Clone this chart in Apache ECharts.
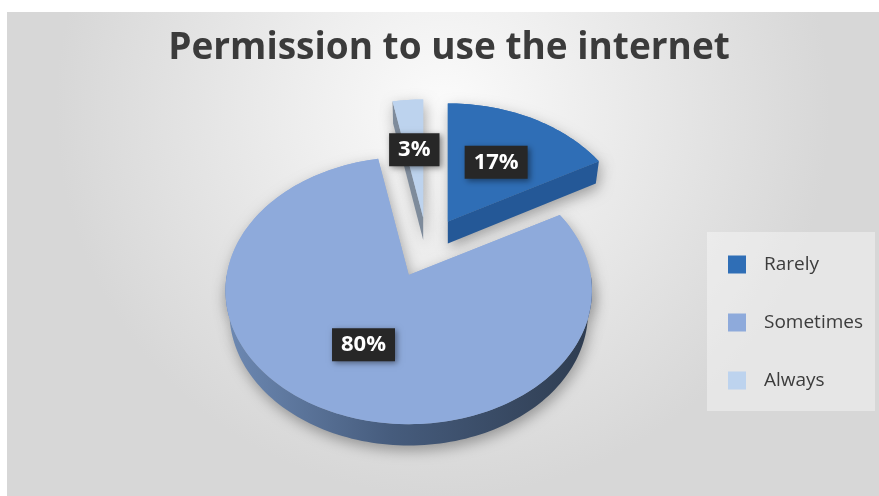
<!DOCTYPE html>
<html>
<head>
<meta charset="utf-8">
<script src="https://cdn.jsdelivr.net/npm/echarts@6/dist/echarts.min.js"></script>
<style>
  html, body { margin: 0; padding: 0; background: #ffffff; }
  #chart { width: 879px; height: 496px; }
</style>
</head>
<body>
<div id="chart"></div>
<script>
// Survey answers: how often permission to use the internet is given
const categories = ['Rarely', 'Sometimes', 'Always'];
const shares = [17, 80, 3];

// Slice styling (top face, radial wall, curved outer wall gradient)
const topColors = ['#2f6eb6', '#8eaadb', '#bdd3ee'];
const sideColors = ['#245897', '#4d6489', '#7e8b9b'];
const outerColors = [['#3d6ea8', '#2a4f80', '#1d4270'],
                     ['#6d89b3', '#465c7d', '#2e3c50'],
                     ['#9fb0c6', '#7a8898', '#5b6878']];

const total = shares.reduce((a, b) => a + b, 0);
const starts = shares.map((_, i) => shares.slice(0, i).reduce((a, b) => a + b, 0));

// 3D view of the pie: centre on screen, radius scale, tilt, perspective, thickness, explosion
const VIEW = {
  cx: 427, cy: 247, scale: 182,
  tilt: 46.4 * Math.PI / 180, persp: 0.168,
  thick: 0.18, explode: 0.23, labelR: 0.55
};
const DEG = Math.PI / 180;

function proj(x, y, z) {
  const ca = Math.cos(VIEW.tilt), sa = Math.sin(VIEW.tilt);
  const yc = y * ca - z * sa;
  const d = 1 - VIEW.persp * (z * ca + y * sa);
  return [x / d * VIEW.scale, -yc / d * VIEW.scale];
}

// paint order: far slices first
const midAngles = shares.map((v, i) => (starts[i] + v / 2) / total * 360);
const order = midAngles.map((m, i) => [-Math.cos(m * DEG), i]).sort((a, b) => a[0] - b[0]).map(p => p[1]);
const rank = [];
order.forEach((idx, r) => { rank[idx] = r; });

const SHADOW = { shadowBlur: 14, shadowColor: 'rgba(0,0,0,0.33)', shadowOffsetX: 2, shadowOffsetY: 5 };

function makeRender(i) {
  return function (params, api) {
    const value = api.value(0);
    const t0 = starts[i] / total * 360;
    const t1 = t0 + value / total * 360;
    const mid = (t0 + t1) / 2 * DEG;
    const off = proj(VIEW.explode * Math.sin(mid), 0, -VIEW.explode * Math.cos(mid));
    const ox = VIEW.cx + off[0], oy = VIEW.cy + off[1];
    const P = (x, y, z) => { const p = proj(x, y, z); return [ox + p[0], oy + p[1]]; };
    const rim = (t, y) => P(Math.sin(t * DEG), y, -Math.cos(t * DEG));
    const arc = (a, b, y) => {
      const pts = [];
      const n = Math.max(2, Math.ceil(Math.abs(b - a) / 1.5));
      for (let k = 0; k <= n; k++) pts.push(rim(a + (b - a) * k / n, y));
      return pts;
    };
    const h = VIEW.thick;
    const base = rank[i] * 10;
    const topPts = [P(0, 0, 0)].concat(arc(t0, t1, 0));
    const children = [];

    children.push({ type: 'polygon', z2: base, shape: { points: topPts },
      style: Object.assign({ fill: topColors[i] }, SHADOW) });

    const a = Math.max(t0, 90), b = Math.min(t1, 270);
    if (b > a) {
      const oc = outerColors[i];
      children.push({ type: 'polygon', z2: base + 1,
        shape: { points: arc(a, b, 0).concat(arc(b, a, -h)) },
        style: Object.assign({
          fill: new echarts.graphic.LinearGradient(0, 0, 1, 0, [
            { offset: 0, color: oc[0] }, { offset: 0.45, color: oc[1] }, { offset: 1, color: oc[2] }
          ])
        }, SHADOW) });
    }
    if (Math.sin(t0 * DEG) < -1e-6) {
      children.push({ type: 'polygon', z2: base + 1,
        shape: { points: [P(0, 0, 0), rim(t0, 0), rim(t0, -h), P(0, -h, 0)] },
        style: Object.assign({ fill: sideColors[i] }, SHADOW) });
    }
    if (Math.sin(t1 * DEG) > 1e-6) {
      children.push({ type: 'polygon', z2: base + 1,
        shape: { points: [P(0, 0, 0), rim(t1, 0), rim(t1, -h), P(0, -h, 0)] },
        style: Object.assign({ fill: sideColors[i] }, SHADOW) });
    }
    children.push({ type: 'polygon', z2: base + 2, shape: { points: topPts },
      style: { fill: topColors[i] } });

    const lp = P(VIEW.labelR * Math.sin(mid), 0, -VIEW.labelR * Math.cos(mid));
    children.push({ type: 'text', z2: 100, x: lp[0], y: lp[1],
      style: {
        text: value + '%',
        fill: '#ffffff',
        font: 'bold 22px "Open Sans", sans-serif',
        align: 'center', verticalAlign: 'middle',
        backgroundColor: '#272727',
        padding: [6, 9, 5, 9],
        shadowBlur: 6, shadowColor: 'rgba(0,0,0,0.45)', shadowOffsetX: 2, shadowOffsetY: 2
      } });
    return { type: 'group', children: children };
  };
}

const chart = echarts.init(document.getElementById('chart'));
chart.setOption({
  animation: false,
  graphic: [
    { type: 'rect', z: -10, silent: true,
      shape: { x: 7, y: 12, width: 872, height: 484 },
      style: { fill: new echarts.graphic.RadialGradient(0.5, 0.2, 0.8, [
        { offset: 0, color: '#fbfbfb' }, { offset: 1, color: '#d7d7d7' }
      ]) } },
    { type: 'text', z: 10, x: 449, y: 48, silent: true,
      style: { text: 'Permission to use the internet', font: 'bold 37px "Open Sans", sans-serif',
        fill: '#3b3b3b', align: 'center', verticalAlign: 'middle' } }
  ],
  legend: {
    data: categories,
    orient: 'vertical',
    left: 707, top: 232,
    padding: [23, 12, 21, 21],
    backgroundColor: 'rgba(255,255,255,0.38)',
    icon: 'rect',
    itemWidth: 18, itemHeight: 18, itemGap: 39,
    textStyle: { fontSize: 19, color: '#3c3c3c', fontFamily: 'Open Sans', padding: [0, 0, 0, 13] }
  },
  series: categories.map((name, i) => ({
    type: 'custom',
    name: name,
    coordinateSystem: 'none',
    itemStyle: { color: topColors[i] },
    renderItem: makeRender(i),
    data: [[shares[i]]]
  }))
});
</script>
</body>
</html>
